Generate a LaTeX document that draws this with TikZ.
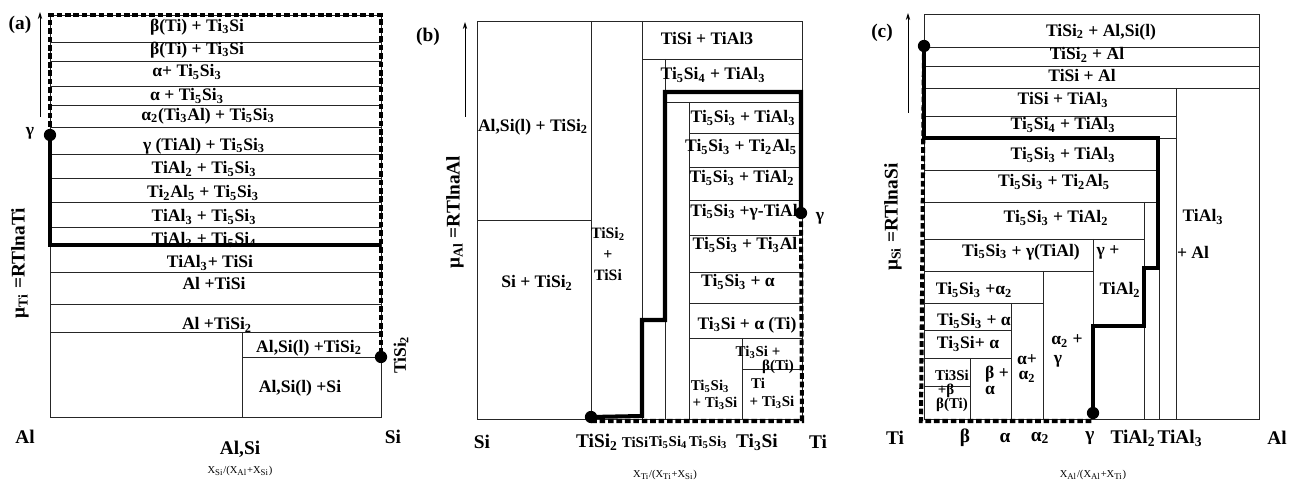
\documentclass[tikz,border=0pt]{standalone}
\usepackage{fontspec}
\setmainfont{Liberation Serif}
\usetikzlibrary{arrows.meta}
\newcommand\sbs[1]{\textsubscript{#1}}
\begin{document}
\begin{tikzpicture}[x=0.02cm,y=-0.02cm,
  frame/.style={line width=0.5pt,draw=black!85},
  thickpath/.style={line width=2.3pt,line join=miter},
  dotpath/.style={line width=2.3pt,dash pattern=on 3.2pt off 1.6pt},
  dot/.style={circle,fill=black,inner sep=0pt,minimum size=7pt},
  lbl/.style={font=\fontsize{10}{11}\selectfont\bfseries,inner sep=0pt},
  sml/.style={font=\fontsize{8.5}{9}\selectfont\bfseries,inner sep=0pt,align=center},
  ax/.style={font=\fontsize{11}{12}\selectfont\bfseries,inner sep=0pt},
  axs/.style={font=\fontsize{8.5}{10}\selectfont\bfseries,inner sep=0pt},
  tiny/.style={font=\fontsize{6}{7}\selectfont,inner sep=0pt},
  yax/.style={font=\fontsize{11}{12}\selectfont\bfseries,inner sep=0pt,rotate=90},
  uparrow/.style={line width=0.5pt,-{Stealth[length=4pt,width=2.5pt]}}]
\useasboundingbox (0,0) rectangle (1296,486);

%%%%%%%%%%%%%%%%%%%% panel (a)
\draw[frame] (50,15) rectangle (381,417);
\foreach \y in {42,61,86,105,127,154,178,202,227,272,304,332}
  \draw[frame] (50,\y) -- (381,\y);
\draw[frame] (242,332) -- (242,417);
\draw[frame] (242,357) -- (381,357);
\node[dot] (ga) at (50,135) {};
\node[dot] (ta) at (381,357) {};
\coordinate (atop) at (40,12);
\coordinate (abot) at (40,117);
\draw[uparrow] (abot) -- (atop);
\draw[dotpath] (ga.center) -- (50,15) -- (381,15) -- (ta.center);
\draw[thickpath] (ga.center) -- (50,245) -- (381,245);

\node[ax] (la) at (20,25) {(a)};
\node[lbl] (gla) at (30,133) {γ};
\node[yax] (ya) at (20,263) {μ\sbs{Ti} =RTlnaTi};
\node[lbl,rotate=90] (tsa) at (401,355) {TiSi\sbs{2}};
\node[ax] (a1) at (25,437) {Al};
\node[ax] (a2) at (240,449) {Al,Si};
\node[ax] (a3) at (393,437) {Si};
\node[tiny] (xa) at (240,471) {X\sbs{Si}/(X\sbs{Al}+X\sbs{Si})};

\node[lbl] (r1) at (197,27) {β(Ti) + Ti\sbs{3}Si};
\node[lbl] (r2) at (197,50) {β(Ti) + Ti\sbs{3}Si};
\node[lbl] (r3) at (187,72) {α+ Ti\sbs{5}Si\sbs{3}};
\node[lbl] (r4) at (187,96) {α + Ti\sbs{5}Si\sbs{3}};
\node[lbl] (r5) at (208,116) {α\sbs{2}(Ti\sbs{3}Al) + Ti\sbs{5}Si\sbs{3}};
\node[lbl] (r6) at (204,146) {γ (TiAl) + Ti\sbs{5}Si\sbs{3}};
\node[lbl] (r7) at (204,169) {TiAl\sbs{2} + Ti\sbs{5}Si\sbs{3}};
\node[lbl] (r8) at (203,193) {Ti\sbs{2}Al\sbs{5} + Ti\sbs{5}Si\sbs{3}};
\node[lbl] (r9) at (204,217) {TiAl\sbs{3} + Ti\sbs{5}Si\sbs{3}};
\node[lbl] (r10) at (204,240) {TiAl\sbs{3} + Ti\sbs{5}Si\sbs{4}};
\node[lbl] (r11) at (210,263) {TiAl\sbs{3}+ TiSi};
\node[lbl] (r12) at (214,283) {Al +TiSi};
\node[lbl] (r13) at (217,325) {Al +TiSi\sbs{2}};
\node[lbl] (r14) at (309,348) {Al,Si(l) +TiSi\sbs{2}};
\node[lbl] (r15) at (300,388) {Al,Si(l) +Si};

%%%%%%%%%%%%%%%%%%%% panel (b)
\draw[frame] (477,21) rectangle (802,419);
\draw[frame] (591,21) -- (591,419);
\draw[frame] (642,21) -- (642,419);
\draw[frame] (642,59) -- (802,59);
\draw[frame] (665,59) -- (665,419);
\draw[frame] (665,102) -- (802,102);
\draw[frame] (689,102) -- (689,419);
\foreach \y in {133,167,200,235,272,303,338}
  \draw[frame] (689,\y) -- (802,\y);
\draw[frame] (742,338) -- (742,419);
\draw[frame] (742,369) -- (802,369);
\draw[frame] (477,220) -- (591,220);
\node[dot] (tb) at (591,417) {};
\node[dot] (gb) at (801,213) {};
\coordinate (btop) at (465,22);
\coordinate (bbot) at (465,117);
\draw[uparrow] (bbot) -- (btop);
\draw[dotpath] (gb.center) -- (802,421) -- (591,421);
\draw[thickpath] (tb.center) -- (642,416) -- (642,320) -- (665,320) -- (665,92) -- (801,92) -- (gb.center);

\node[ax] (lb) at (428,37) {(b)};
\node[lbl] (glb) at (820,218) {γ};
\node[yax] (yb) at (455,212) {μ\sbs{Al} =RTlnaAl};
\node[ax] (b1) at (482,442) {Si};
\node[ax] (b2) at (597,442) {TiSi\sbs{2}};
\node[axs] (b3) at (635,442) {TiSi};
\node[axs] (b4) at (668,442) {Ti\sbs{5}Si\sbs{4}};
\node[axs] (b5) at (708,442) {Ti\sbs{5}Si\sbs{3}};
\node[ax] (b6) at (757,442) {Ti\sbs{3}Si};
\node[ax] (b7) at (818,442) {Ti};
\node[tiny] (xb) at (665,475) {X\sbs{Ti}/(X\sbs{Ti}+X\sbs{Si})};

\node[lbl] (s1) at (533,127) {Al,Si(l) + TiSi\sbs{2}};
\node[lbl] (s2) at (537,283) {Si + TiSi\sbs{2}};
\node[sml,font=\fontsize{9}{12}\selectfont\bfseries] (s3) at (608,254) {TiSi\sbs{2}\\+\\TiSi};
\node[lbl] (s4) at (707,38) {TiSi + TiAl3};
\node[lbl] (s5) at (713,75) {Ti\sbs{5}Si\sbs{4} + TiAl\sbs{3}};
\node[lbl] (s6) at (743,118) {Ti\sbs{5}Si\sbs{3} + TiAl\sbs{3}};
\node[lbl] (s7) at (741,147) {Ti\sbs{5}Si\sbs{3} + Ti\sbs{2}Al\sbs{5}};
\node[lbl] (s8) at (742,178) {Ti\sbs{5}Si\sbs{3} + TiAl\sbs{2}};
\node[lbl] (s9) at (744,212) {Ti\sbs{5}Si\sbs{3} +γ-TiAl};
\node[lbl] (s10) at (745,245) {Ti\sbs{5}Si\sbs{3} + Ti\sbs{3}Al};
\node[lbl] (s11) at (738,282) {Ti\sbs{5}Si\sbs{3} + α};
\node[lbl] (s12) at (747,325) {Ti\sbs{3}Si + α (Ti)};
\node[sml] (s13) at (758,352) {Ti\sbs{3}Si +};
\node[sml] (s14) at (778,367) {β(Ti)};
\node[sml] (s15) at (758,383) {Ti};
\node[sml] (s16) at (772,402) {+ Ti\sbs{3}Si};
\node[sml] (s17) at (710,386) {Ti\sbs{5}Si\sbs{3}};
\node[sml] (s18) at (715,403) {+ Ti\sbs{3}Si};

%%%%%%%%%%%%%%%%%%%% panel (c)
\draw[frame] (924,14) rectangle (1259,419);
\foreach \y in {47,66,88}
  \draw[frame] (924,\y) -- (1259,\y);
\draw[frame] (1176,88) -- (1176,419);
\draw[frame] (924,116) -- (1176,116);
\draw[frame] (924,138) -- (1176,138);
\draw[frame] (1159,138) -- (1159,419);
\draw[frame] (924,170) -- (1159,170);
\draw[frame] (924,202) -- (1159,202);
\draw[frame] (1144,202) -- (1144,419);
\draw[frame] (924,239) -- (1144,239);
\draw[frame] (1093,239) -- (1093,419);
\draw[frame] (924,271) -- (1093,271);
\draw[frame] (1043,271) -- (1043,419);
\draw[frame] (924,303) -- (1043,303);
\draw[frame] (1011,303) -- (1011,419);
\draw[frame] (924,330) -- (1011,330);
\draw[frame] (924,358) -- (1011,358);
\draw[frame] (970,358) -- (970,419);
\draw[frame] (924,386) -- (970,386);
\node[dot] (tc) at (924,46) {};
\node[dot] (gc) at (1093,413) {};
\coordinate (ctop) at (908,13);
\coordinate (cbot) at (908,113);
\draw[uparrow] (cbot) -- (ctop);
\draw[dotpath] (tc.center) -- (921,421) -- (1093,421);
\draw[thickpath] (tc.center) -- (924,138) -- (1158,138) -- (1158,268) -- (1144,268) -- (1144,326) -- (1093,326) -- (gc.center);

\node[ax] (lc) at (882,33) {(c)};
\node[yax] (yc) at (893,217) {μ\sbs{Si} =RTlnaSi};
\node[ax] (c1) at (895,438) {Ti};
\node[ax] (c2) at (965,438) {β};
\node[ax] (c3) at (1005,438) {α};
\node[ax] (c4) at (1040,438) {α\sbs{2}};
\node[ax] (c5) at (1090,438) {γ};
\node[ax] (c6) at (1133,438) {TiAl\sbs{2}};
\node[ax] (c7) at (1180,438) {TiAl\sbs{3}};
\node[ax] (c8) at (1277,438) {Al};
\node[tiny] (xc) at (1093,475) {X\sbs{Al}/(X\sbs{Al}+X\sbs{Ti})};

\node[lbl] (t1) at (1101,32) {TiSi\sbs{2} + Al,Si(l)};
\node[lbl] (t2) at (1087,55) {TiSi\sbs{2} + Al};
\node[lbl] (t3) at (1082,75) {TiSi + Al};
\node[lbl] (t4) at (1063,100) {TiSi + TiAl\sbs{3}};
\node[lbl] (t5) at (1063,125) {Ti\sbs{5}Si\sbs{4} + TiAl\sbs{3}};
\node[lbl] (t6) at (1063,155) {Ti\sbs{5}Si\sbs{3} + TiAl\sbs{3}};
\node[lbl] (t7) at (1054,182) {Ti\sbs{5}Si\sbs{3} + Ti\sbs{2}Al\sbs{5}};
\node[lbl] (t8) at (1056,218) {Ti\sbs{5}Si\sbs{3} + TiAl\sbs{2}};
\node[lbl] (t9) at (1021,252) {Ti\sbs{5}Si\sbs{3} + γ(TiAl)};
\node[lbl] (t10) at (1108,252) {γ +};
\node[lbl] (t11) at (1120,290) {TiAl\sbs{2}};
\node[lbl] (t12) at (1203,217) {TiAl\sbs{3}};
\node[lbl] (t13) at (1193,252) {+ Al};
\node[lbl] (t14) at (974,290) {Ti\sbs{5}Si\sbs{3} +α\sbs{2}};
\node[lbl] (t15) at (974,321) {Ti\sbs{5}Si\sbs{3} + α};
\node[lbl] (t16) at (968,344) {Ti\sbs{3}Si+ α};
\node[sml] (t17) at (952,375) {Ti3Si};
\node[sml] (t18) at (946,391) {+β};
\node[sml] (t19) at (952,405) {β(Ti)};
\node[lbl] (t20) at (997,374) {β +};
\node[lbl] (t21) at (990,390) {α};
\node[lbl] (t22) at (1027,360) {α+};
\node[lbl] (t23) at (1027,377) {α\sbs{2}};
\node[lbl] (t24) at (1067,341) {α\sbs{2} +};
\node[lbl] (t25) at (1058,361) {γ};
\end{tikzpicture}
\end{document}
